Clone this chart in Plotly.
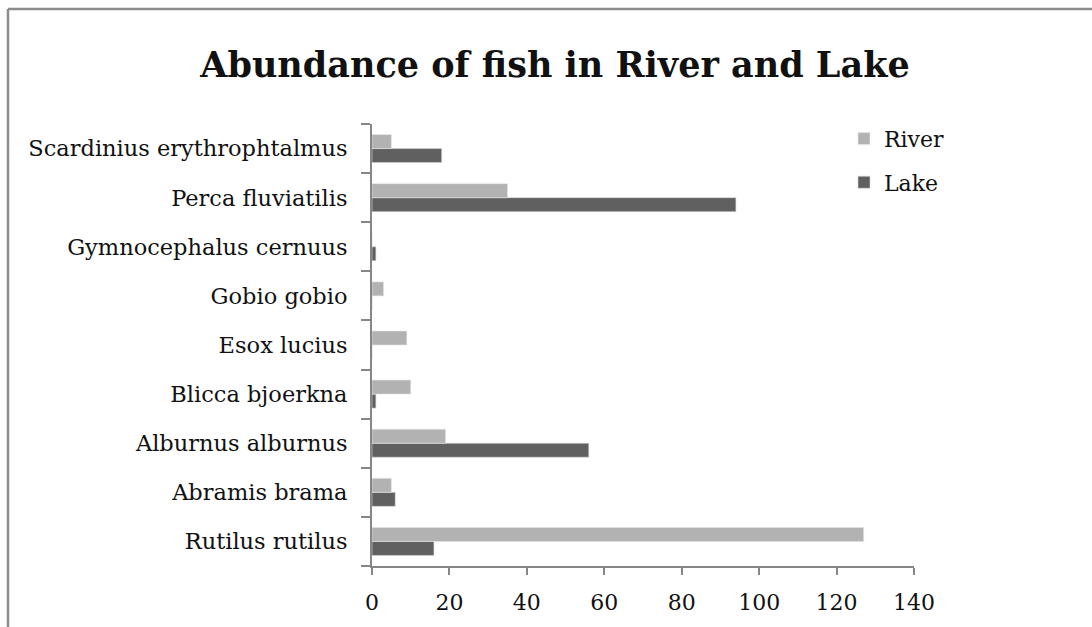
import plotly.graph_objects as go

# Fish species (bottom to top as drawn on the category axis)
species = [
    "Rutilus rutilus",
    "Abramis brama",
    "Alburnus alburnus",
    "Blicca bjoerkna",
    "Esox lucius",
    "Gobio gobio",
    "Gymnocephalus cernuus",
    "Perca fluviatilis",
    "Scardinius erythrophtalmus",
]
river_counts = [127, 5, 19, 10, 9, 3, 0, 35, 5]
lake_counts = [16, 6, 56, 1, 0, 0, 1, 94, 18]

x_ticks = [0, 20, 40, 60, 80, 100, 120, 140]

W, H = 1092, 627
ML, MR, MT, MB = 372, 178, 124, 61
FONT = "DejaVu Serif"
AXIS_GREY = "#868686"
TEXT = "#111111"

fig = go.Figure()
fig.add_trace(go.Bar(
    name="Lake", y=species, x=lake_counts, orientation="h",
    marker=dict(color="#606060", line=dict(color="#d9d9d9", width=0.6)),
    legendgroup="lake", legendrank=2,
))
fig.add_trace(go.Bar(
    name="River", y=species, x=river_counts, orientation="h",
    marker=dict(color="#b2b2b2", line=dict(color="#e6e6e6", width=0.6)),
    legendgroup="river", legendrank=1,
))

# Outer frame of the chart area
pw = W - ML - MR
ph = H - MT - MB
left = (8 - ML) / pw
top = 1 + (MT - 9) / ph
fig.add_shape(type="line", xref="paper", yref="paper",
              x0=left, x1=(W + 20 - ML) / pw, y0=top, y1=top,
              line=dict(color="#8c8c8c", width=2.5))
fig.add_shape(type="line", xref="paper", yref="paper",
              x0=left, x1=left, y0=top, y1=-(MB + 20) / ph,
              line=dict(color="#8c8c8c", width=2.5))

fig.update_layout(
    width=W, height=H,
    margin=dict(l=ML, r=MR, t=MT, b=MB),
    paper_bgcolor="white", plot_bgcolor="white",
    barmode="group", bargap=0.43, bargroupgap=0,
    font=dict(family=FONT, size=22, color=TEXT),
    title=dict(
        text="<b>Abundance of fish in River and Lake</b>",
        font=dict(family=FONT, size=35, color=TEXT),
        x=555 / W, xref="container", xanchor="center",
        y=1 - 65 / H, yanchor="middle",
    ),
    showlegend=True,
    legend=dict(
        x=(844 - ML) / pw, y=1.014, xanchor="left", yanchor="top",
        traceorder="grouped", tracegroupgap=12,
        font=dict(family=FONT, size=22, color=TEXT),
        bgcolor="rgba(0,0,0,0)",
    ),
    xaxis=dict(
        range=[0, 140], tickvals=x_ticks, ticktext=[str(v) for v in x_ticks],
        showgrid=False, zeroline=False,
        showline=True, linecolor=AXIS_GREY, linewidth=2,
        ticks="outside", ticklen=7, tickwidth=2, tickcolor=AXIS_GREY,
        ticklabelstandoff=9,
        tickfont=dict(family=FONT, size=22, color=TEXT),
        fixedrange=True,
    ),
    yaxis=dict(
        categoryorder="array", categoryarray=species,
        showgrid=False, zeroline=False,
        showline=True, linecolor=AXIS_GREY, linewidth=2,
        ticks="outside", ticklen=9, tickwidth=2, tickcolor=AXIS_GREY,
        tickson="boundaries", ticklabelstandoff=18,
        tickfont=dict(family=FONT, size=22.5, color=TEXT),
        fixedrange=True,
    ),
)

fig.write_html("out.html")
